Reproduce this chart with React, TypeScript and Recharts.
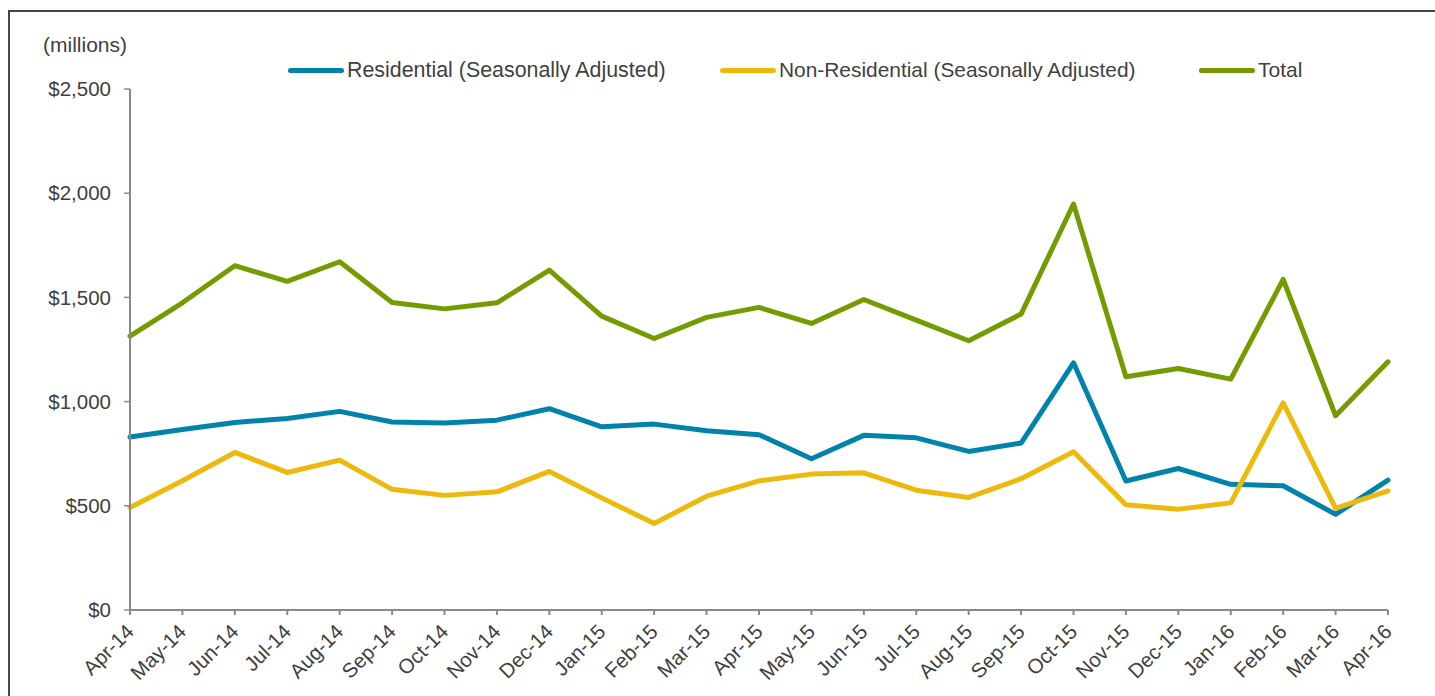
import React from "react";
import { LineChart, Line, XAxis, YAxis } from "recharts";

const months = [
  "Apr-14", "May-14", "Jun-14", "Jul-14", "Aug-14", "Sep-14", "Oct-14", "Nov-14", "Dec-14",
  "Jan-15", "Feb-15", "Mar-15", "Apr-15", "May-15", "Jun-15", "Jul-15", "Aug-15", "Sep-15",
  "Oct-15", "Nov-15", "Dec-15", "Jan-16", "Feb-16", "Mar-16", "Apr-16",
];

const residential = [
  830, 866, 900, 919, 953, 902, 897, 911, 966, 879, 892, 860, 841, 726, 838, 826, 761, 801,
  1186, 619, 679, 603, 596, 459, 623,
];

const nonResidential = [
  492, 620, 756, 660, 719, 579, 550, 567, 665, 538, 415, 546, 620, 652, 658, 575, 540, 630,
  759, 505, 484, 514, 994, 488, 572,
];

const total = [
  1314, 1474, 1652, 1577, 1671, 1476, 1445, 1474, 1631, 1410, 1303, 1404, 1452, 1375, 1490,
  1391, 1292, 1420, 1948, 1119, 1159, 1108, 1586, 932, 1191,
];

const yTicks = [0, 500, 1000, 1500, 2000, 2500];

const seriesNames = [
  "Residential (Seasonally Adjusted)",
  "Non-Residential (Seasonally Adjusted)",
  "Total",
];
const seriesKeys = ["residential", "nonResidential", "total"];
const seriesColors = ["#0083AB", "#EDB90C", "#749B00"];

const data = months.map((m, i) => ({
  month: m,
  residential: residential[i],
  nonResidential: nonResidential[i],
  total: total[i],
}));

const FONT = '"Liberation Sans", Arial, Helvetica, sans-serif';
const TEXT = "#3f3f3f";
const AXIS = "#8a8a8a";

const fmt = (v: number) => "$" + v.toLocaleString("en-US");

const XTick = (props: any) => {
  const { x, y, payload } = props;
  const ax = x + 5;
  const ay = y + 16;
  return (
    <text
      x={ax}
      y={ay}
      textAnchor="end"
      transform={`rotate(-45 ${ax} ${ay})`}
      fill={TEXT}
      fontSize={20.5}
      fontFamily={FONT}
    >
      {payload.value}
    </text>
  );
};

const legendLeft = [288, 720, 1199];
const legendFont = [21.4, 20.9, 21];

export default function App() {
  return (
    <div
      style={{
        position: "fixed",
        left: 0,
        top: 0,
        width: 1435,
        height: 696,
        overflow: "hidden",
        background: "#fff",
        fontFamily: FONT,
      }}
    >
      <style>{"html,body{overflow:hidden}"}</style>
      <div
        style={{
          position: "absolute",
          left: 8,
          top: 10,
          width: 1500,
          height: 800,
          border: "2px solid #3e4751",
          boxSizing: "border-box",
        }}
      />
      <div
        style={{
          position: "absolute",
          left: 43,
          top: 33,
          fontSize: 21,
          lineHeight: "24px",
          color: TEXT,
          whiteSpace: "nowrap",
        }}
      >
        (millions)
      </div>
      {seriesNames.map((name, i) => (
        <div
          key={name}
          style={{
            position: "absolute",
            left: legendLeft[i],
            top: 58,
            height: 24,
            display: "flex",
            alignItems: "center",
            whiteSpace: "nowrap",
            fontSize: legendFont[i],
            lineHeight: "24px",
            color: TEXT,
          }}
        >
          <span
            style={{
              display: "inline-block",
              width: 56,
              height: 5,
              borderRadius: 3,
              background: seriesColors[i],
              marginRight: 3,
            }}
          />
          <span>{name}</span>
        </div>
      ))}
      <div style={{ position: "absolute", left: 8, top: 8 }}>
        <LineChart
          width={1450}
          height={688}
          data={data}
          margin={{ top: 81, right: 70, bottom: 0, left: 0 }}
        >
          <XAxis
            dataKey="month"
            height={86}
            interval={0}
            axisLine={{ stroke: AXIS, strokeWidth: 2 }}
            tickLine={{ stroke: AXIS, strokeWidth: 2 }}
            tickSize={5}
            tickMargin={2}
            tick={<XTick />}
          />
          <YAxis
            width={122}
            domain={[0, 2500]}
            ticks={yTicks}
            interval={0}
            tickFormatter={fmt}
            axisLine={{ stroke: AXIS, strokeWidth: 2 }}
            tickLine={{ stroke: AXIS, strokeWidth: 1.5 }}
            tickSize={6}
            tickMargin={13}
            tick={{ fill: TEXT, fontSize: 20.5, fontFamily: FONT }}
          />
          {seriesKeys.map((k, i) => (
            <Line
              key={k}
              type="linear"
              dataKey={k}
              name={seriesNames[i]}
              stroke={seriesColors[i]}
              strokeWidth={5}
              strokeLinejoin="round"
              strokeLinecap="round"
              dot={false}
              activeDot={false}
              isAnimationActive={false}
            />
          ))}
        </LineChart>
      </div>
    </div>
  );
}
